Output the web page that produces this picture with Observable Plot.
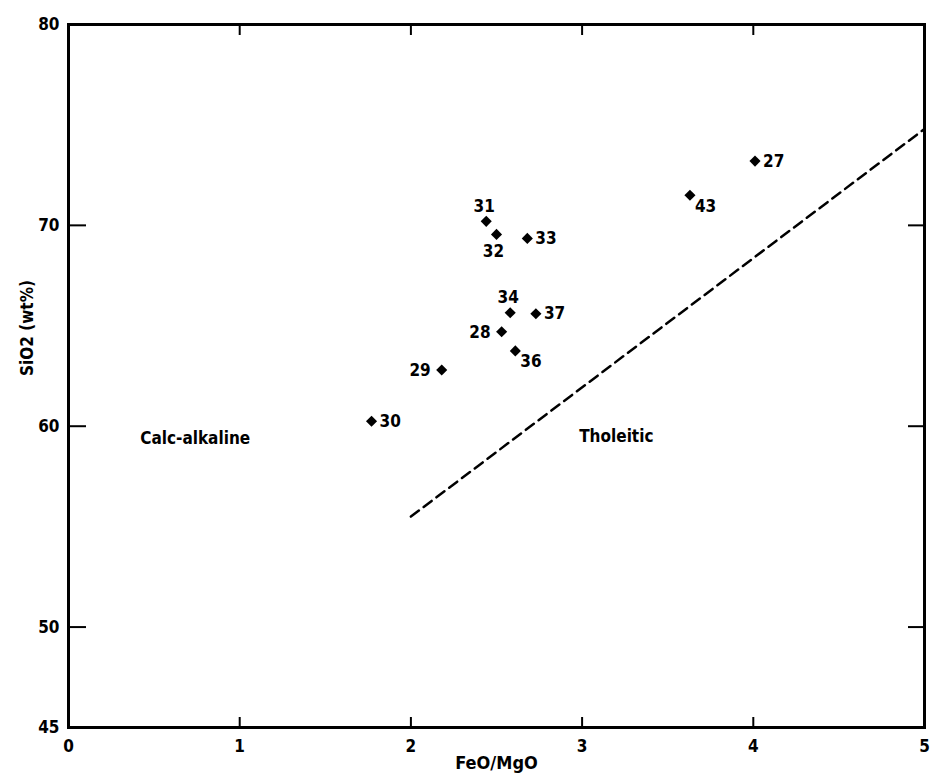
<!DOCTYPE html>
<html>
<head>
<meta charset="utf-8">
<script src="https://cdn.jsdelivr.net/npm/d3@7"></script>
<script src="https://cdn.jsdelivr.net/npm/@observablehq/plot@0.6"></script>
<style>
  html, body { margin: 0; padding: 0; background: #fff; }
  #chart svg { display: block; }
</style>
</head>
<body>
<div id="chart"></div>
<script>
// Sample numbers, FeO/MgO ratio and SiO2 content (wt%)
const sampleIds = ["27", "43", "31", "32", "33", "34", "37", "28", "36", "29", "30"];
const feoMgo    = [4.01, 3.63, 2.44, 2.50, 2.68, 2.58, 2.73, 2.53, 2.61, 2.18, 1.77];
const sio2      = [73.2, 71.5, 70.2, 69.55, 69.35, 65.65, 65.6, 64.7, 63.75, 62.8, 60.25];
// where each sample number sits next to its symbol
const labelSide = ["right", "belowRight", "above", "below", "right", "above", "right", "left", "belowRight", "left", "right"];

// Calc-alkaline / tholeiitic dividing line
const boundaryX = [2, 5];
const boundaryY = [55.5, 74.8];

// field names
const regionNames = ["Calc-alkaline", "Tholeitic"];
const regionX = [0.74, 3.2];
const regionY = [59.4, 59.5];

// axes
const xTickLabels = [0, 1, 2, 3, 4, 5];
const xInnerTicks = [1, 2, 3, 4];
const yTickLabels = [45, 50, 60, 70, 80];
const yInnerTicks = [50, 60, 70];
const xTitle = "FeO/MgO";
const yTitle = "SiO2 (wt%)";

const samples = sampleIds.map((id, i) => ({id, x: feoMgo[i], y: sio2[i], side: labelSide[i]}));
const boundary = boundaryX.map((x, i) => ({x, y: boundaryY[i]}));
const onSide = (s) => samples.filter((d) => d.side === s);

const labelOpts = {x: "x", y: "y", text: "id", fill: "#000"};
const noLabel = () => "";

const chart = Plot.plot({
  width: 930,
  height: 781,
  marginLeft: 68,
  marginRight: 6,
  marginTop: 24,
  marginBottom: 54,
  x: {domain: [0, 5], label: null},
  y: {domain: [45, 80], label: null},
  style: {
    fontFamily: "'DejaVu Sans Condensed', 'DejaVu Sans', sans-serif",
    fontSize: "17px",
    fontWeight: "bold",
    color: "#000",
    background: "#fff"
  },
  marks: [
    // tick labels
    Plot.axisX(xTickLabels, {anchor: "bottom", tickSize: 0, tickPadding: 12, tickFormat: "d", label: null}),
    Plot.axisY(yTickLabels, {anchor: "left", tickSize: 0, tickPadding: 9, tickFormat: "d", label: null}),
    // inward tick marks on all four sides
    Plot.axisX(xInnerTicks, {anchor: "bottom", tickSize: 10, dy: -10, tickFormat: noLabel, label: null, strokeWidth: 2}),
    Plot.axisX(xInnerTicks, {anchor: "top", tickSize: 10, dy: 10, tickFormat: noLabel, label: null, strokeWidth: 2}),
    Plot.axisY(yInnerTicks, {anchor: "left", tickSize: 18, dx: 18, tickFormat: noLabel, label: null, strokeWidth: 2}),
    Plot.axisY(yInnerTicks, {anchor: "right", tickSize: 17, dx: -17, tickFormat: noLabel, label: null, strokeWidth: 2}),
    Plot.frame({stroke: "#000", strokeWidth: 3}),
    // axis titles
    Plot.text([xTitle], {frameAnchor: "bottom", dy: 41, text: (d) => d, fill: "#000", fontSize: 18, letterSpacing: "1.5px"}),
    Plot.text([yTitle], {frameAnchor: "left", dx: -41, rotate: -90, text: (d) => d, fill: "#000"}),
    // dividing line
    Plot.line(boundary, {x: "x", y: "y", stroke: "#000", strokeWidth: 2.5, strokeDasharray: "10,6"}),
    // field names
    Plot.text(regionNames, {x: (d, i) => regionX[i], y: (d, i) => regionY[i], text: (d) => d, fill: "#000"}),
    // samples
    Plot.dot(samples, {x: "x", y: "y", symbol: "diamond2", r: 5, fill: "#000", stroke: "none"}),
    Plot.text(onSide("right"), {...labelOpts, textAnchor: "start", dx: 8, dy: 0}),
    Plot.text(onSide("belowRight"), {...labelOpts, textAnchor: "start", dx: 5, dy: 11}),
    Plot.text(onSide("left"), {...labelOpts, textAnchor: "end", dx: -11, dy: 1}),
    Plot.text(onSide("above"), {...labelOpts, dx: -2, dy: -15}),
    Plot.text(onSide("below"), {...labelOpts, dx: -3, dy: 17})
  ]
});

document.getElementById("chart").appendChild(chart);
</script>
</body>
</html>
